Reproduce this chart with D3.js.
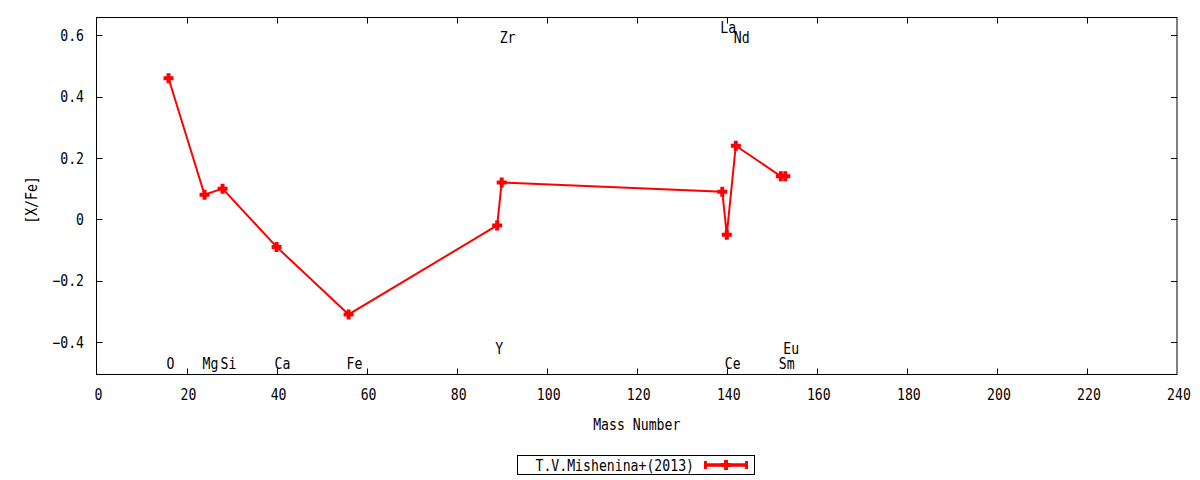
<!DOCTYPE html>
<html><head><meta charset="utf-8">
<script src="https://cdn.jsdelivr.net/npm/d3@7"></script>
<style>body{margin:0;background:#fff}svg{display:block}</style>
</head><body>
<svg id="c" width="1200" height="480"></svg>
<script>
const elements = ["O","Mg","Si","Ca","Fe","Y","Zr","La","Ce","Nd","Sm","Eu"];
const massNumbers = [16,24,28,40,56,89,90,139,140,142,152,153];
const xfe = [0.46,0.08,0.10,-0.09,-0.31,-0.02,0.12,0.09,-0.05,0.24,0.14,0.14];
const labelY = [-0.47,-0.47,-0.47,-0.47,-0.47,-0.42,0.593,0.627,-0.47,0.593,-0.47,-0.42];
const xTicks = [0,20,40,60,80,100,120,140,160,180,200,220,240];
const yTicks = [-0.4,-0.2,0,0.2,0.4,0.6];
const seriesName = "T.V.Mishenina+(2013)";

const svg = d3.select("#c");
const x = d3.scaleLinear().domain([0,240]).range([96.5,1177]);
const y = d3.scaleLinear().domain([-0.506,0.658]).range([374.5,17.5]);
const FONT = "DejaVu Sans Mono", FS = 15.5, SX = 0.85;

function txt(px, py, s, anchor, rot){
  const g = svg.append("g").attr("transform", `translate(${px},${py})` + (rot?` rotate(${rot})`:"") + ` scale(${SX},1)`);
  g.append("text").attr("x",0).attr("y",0).attr("dy","0.36em")
    .attr("text-anchor",anchor||"start")
    .attr("font-family",FONT).attr("font-size",FS).attr("fill","#000").text(s);
}

// frame
const [x0,x1] = x.range(), [y0,y1] = y.range();
svg.append("rect").attr("x",x0).attr("y",y1).attr("width",x1-x0).attr("height",y0-y1)
  .attr("fill","none").attr("stroke","#000").attr("stroke-width",1);

// ticks (inward, mirrored)
xTicks.forEach(t=>{
  const px = Math.round(x(t))+0.5;
  if(t>0 && t<240){
    svg.append("line").attr("x1",px).attr("x2",px).attr("y1",y0).attr("y2",y0-6).attr("stroke","#000");
    svg.append("line").attr("x1",px).attr("x2",px).attr("y1",y1).attr("y2",y1+6).attr("stroke","#000");
  }
  txt(x(t)+2, 394, String(t), "middle");
});
yTicks.forEach(t=>{
  const py = Math.round(y(t))+0.5;
  svg.append("line").attr("x1",x0).attr("x2",x0+6).attr("y1",py).attr("y2",py).attr("stroke","#000");
  svg.append("line").attr("x1",x1).attr("x2",x1-6).attr("y1",py).attr("y2",py).attr("stroke","#000");
  txt(84, y(t), d3.format("")(+t.toFixed(1)), "end");
});

// axis titles
txt((x0+x1)/2, 424, "Mass Number", "middle");
txt(31, (y0+y1)/2+4, "[X/Fe]", "middle", -90);

// data
const pts = massNumbers.map((m,i)=>({m, v:xfe[i], el:elements[i], ly:labelY[i]}));
svg.append("path").datum(pts)
  .attr("d", d3.line().x(d=>x(d.m)).y(d=>y(d.v)))
  .attr("fill","none").attr("stroke","#ff0000").attr("stroke-width",2);
const plus = "M-5,0H5M0,-5V5";
svg.selectAll("path.pt").data(pts).enter().append("path").attr("class","pt")
  .attr("transform",d=>`translate(${x(d.m)},${y(d.v)})`)
  .attr("d",plus).attr("stroke","#ff0000").attr("stroke-width",4).attr("fill","none");

// element labels
pts.forEach(d=>txt(x(d.m)-2, y(d.ly), d.el, "start"));

// legend
svg.append("rect").attr("x",517.5).attr("y",455.5).attr("width",237).attr("height",19)
  .attr("fill","none").attr("stroke","#000").attr("stroke-width",1);
txt(694, 465, seriesName, "end");
svg.append("line").attr("x1",704).attr("x2",748).attr("y1",465).attr("y2",465).attr("stroke","#ff0000").attr("stroke-width",3.5);
[705.5,746.5].forEach(cx=>svg.append("line").attr("x1",cx).attr("x2",cx).attr("y1",461).attr("y2",469).attr("stroke","#ff0000").attr("stroke-width",3));
svg.append("path").attr("transform","translate(726,465)").attr("d",plus).attr("stroke","#ff0000").attr("stroke-width",4);
</script>
</body></html>
